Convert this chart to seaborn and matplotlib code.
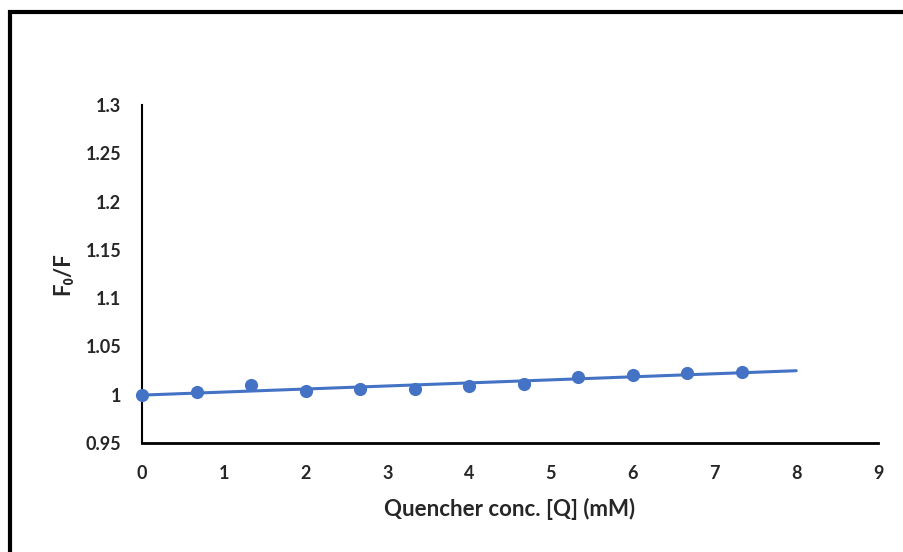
import numpy as np
import pandas as pd
import matplotlib
matplotlib.use("Agg")
import matplotlib.pyplot as plt
import seaborn as sns
from matplotlib.patches import Rectangle

# Data
conc = [0, 0.667, 1.333, 2.0, 2.667, 3.333, 4.0, 4.667, 5.333, 6.0, 6.667, 7.333]
f0_f = [1.000, 1.003, 1.010, 1.004, 1.006, 1.006, 1.009, 1.011, 1.018, 1.020, 1.023, 1.024]
x_ticks = [0, 1, 2, 3, 4, 5, 6, 7, 8, 9]
y_ticks = [0.95, 1.0, 1.05, 1.1, 1.15, 1.2, 1.25, 1.3]
y_tick_labels = ["0.95", "1", "1.05", "1.1", "1.15", "1.2", "1.25", "1.3"]
fit_range = [0, 8]

sns.set_theme(style="white")
plt.rcParams['font.family'] = ['Lato', 'DejaVu Sans']

df = pd.DataFrame({"conc": conc, "f0_f": f0_f})

fig = plt.figure(figsize=(9.04, 5.52), dpi=100)
ax = fig.add_axes([142/904, 1 - 443/552, (878 - 142)/904, (443 - 105)/552])

color = "#4472C4"
# linear trendline
slope, intercept = np.polyfit(conc, f0_f, 1)
xl = np.array(fit_range, dtype=float)
ax.plot(xl, intercept + slope * xl, color=color, lw=2.2, zorder=2, clip_on=False)

sns.scatterplot(data=df, x="conc", y="f0_f", ax=ax, color=color, s=90,
                edgecolor=color, linewidth=0, zorder=3, clip_on=False)

ax.set_xlim(0, 9)
ax.set_ylim(0.95, 1.3)
ax.set_xticks(x_ticks)
ax.set_xticklabels([str(t) for t in x_ticks], fontsize=13, fontweight="bold")
ax.set_yticks(y_ticks)
ax.set_yticklabels(y_tick_labels, fontsize=13, fontweight="bold")
ax.tick_params(axis="y", length=0, pad=15)
ax.tick_params(axis="x", length=0, pad=16)

for s in ["top", "right"]:
    ax.spines[s].set_visible(False)
ax.spines["left"].set_color("black")
ax.spines["left"].set_linewidth(1.5)
ax.spines["bottom"].set_color("black")
ax.spines["bottom"].set_linewidth(2)

ax.set_xlabel("Quencher conc. [Q] (mM)", fontsize=16, fontweight="bold", labelpad=11)
ax.set_ylabel("F\u2080/F", fontsize=16, fontweight="bold", labelpad=9)

# figure frame
fig.patches.append(Rectangle((10/904, -0.05), 1.0, 1 - 12/552 + 0.05,
                             transform=fig.transFigure, fill=False,
                             edgecolor="black", linewidth=3))

fig.savefig("out.png", dpi=100)
